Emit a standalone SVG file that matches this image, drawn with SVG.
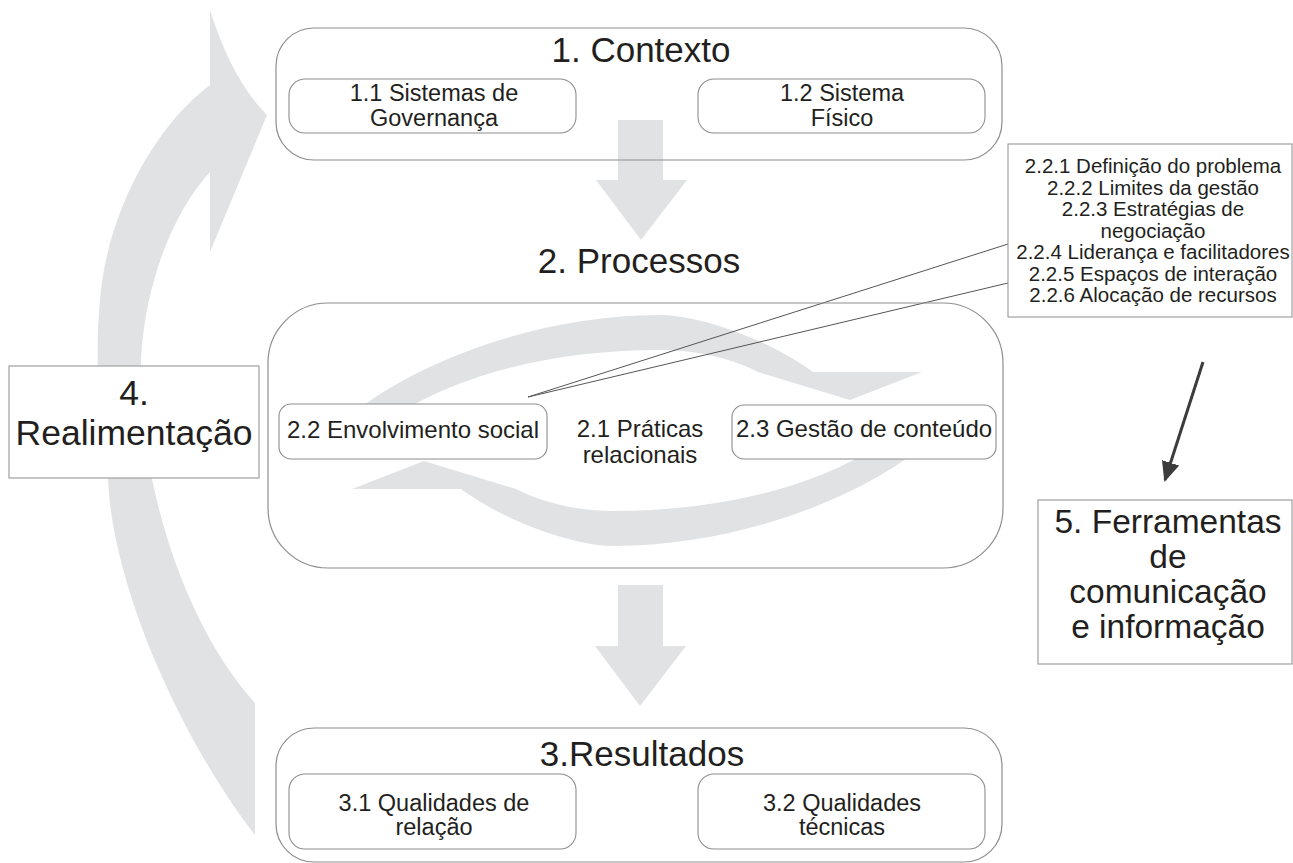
<svg xmlns="http://www.w3.org/2000/svg" width="1293" height="863" viewBox="0 0 1293 863">
<defs>
<style>
.band{fill:#e1e2e4;stroke:none}
.outer{fill:none;stroke:#8e8e8e;stroke-width:1.2}
.inner{fill:#ffffff;stroke:#8e8e8e;stroke-width:1.1}
.sq{fill:#ffffff;stroke:#a0a0a0;stroke-width:1.2}
.t{font-family:"Liberation Sans",Arial,sans-serif;fill:#231f20;text-anchor:middle}
.title{font-size:35px}
.sub{font-size:23.5px}
.mid{font-size:24px}
.small{font-size:20.5px}
.big{font-size:33.5px}
.fb{font-size:35.5px}
.call{stroke:#555555;stroke-width:1;fill:none}
</style>
<marker id="ah" markerUnits="userSpaceOnUse" markerWidth="22" markerHeight="20" refX="18" refY="9" orient="auto">
<path d="M0,0 L20,9 L0,18 Z" fill="#3c3c3c"/>
</marker>
</defs>
<rect width="1293" height="863" fill="#ffffff"/>
<g id="connectors">
<path id="feedback" class="band" d="M210,10 Q232,80 267,115 L210,252 L210,172 C175,210 145,280 141,360 C137,470 180,620 255,703 L255,835 C185,745 112,590 108,478 C98,420 95,350 100,300 C106,220 150,130 210,85 Z"/>
<polygon id="down1" class="band" points="618,120 663,120 663,180 687,180 641,240 596,180 618,180"/>
<polygon id="down2" class="band" points="618,585 663,585 663,646 686,646 640,706 595,646 618,646"/>
<path id="cycle-top" class="band" d="M398,414 C470,368 570,350 660,350 C700,350 735,360 758,372 L850,400 L922,372 L813,372 C770,340 700,315 660,315 C540,315 420,360 352,414 Z"/>
<path id="cycle-bottom" class="band" transform="rotate(180 637 430.5)" d="M398,414 C470,368 570,350 660,350 C700,350 735,360 758,372 L850,400 L922,372 L813,372 C770,340 700,315 660,315 C540,315 420,360 352,414 Z"/>
<polyline id="callout" class="call" points="1008,244 528,397 1008,283"/>
<line id="to5" x1="1203" y1="362" x2="1165" y2="480" stroke="#3c3c3c" stroke-width="3" marker-end="url(#ah)"/>
</g>
<g id="n1">
<rect class="outer" x="276" y="28" width="726" height="132" rx="38"/>
<text class="t title" x="641" y="62">1. Contexto</text>
</g>
<g id="n1-1">
<rect class="inner" x="289" y="79" width="287" height="54" rx="16"/>
<text class="t sub" x="434" y="101">1.1 Sistemas de</text>
<text class="t sub" x="434" y="126">Governança</text>
</g>
<g id="n1-2">
<rect class="inner" x="698" y="79" width="287" height="54" rx="16"/>
<text class="t sub" x="842" y="101">1.2 Sistema</text>
<text class="t sub" x="842" y="126">Físico</text>
</g>
<g id="n2">
<text class="t title" x="639" y="273">2. Processos</text>
<rect class="outer" x="268" y="303" width="735" height="265" rx="60"/>
</g>
<g id="n2-1">
<text class="t mid" x="640" y="437">2.1 Práticas</text>
<text class="t mid" x="640" y="463">relacionais</text>
</g>
<g id="n2-2">
<rect class="inner" x="279" y="404" width="268" height="55" rx="12"/>
<text class="t mid" x="413" y="438">2.2 Envolvimento social</text>
</g>
<g id="n2-3">
<rect class="inner" x="732" y="405" width="264" height="54" rx="12"/>
<text class="t mid" x="864" y="437">2.3 Gestão de conteúdo</text>
</g>
<g id="n2-2-details">
<rect class="sq" x="1008" y="144" width="284" height="173"/>
<text class="t small" x="1153" y="173">2.2.1 Definição do problema</text>
<text class="t small" x="1153" y="195">2.2.2 Limites da gestão</text>
<text class="t small" x="1153" y="216">2.2.3 Estratégias de</text>
<text class="t small" x="1153" y="238">negociação</text>
<text class="t small" x="1153" y="259">2.2.4 Liderança e facilitadores</text>
<text class="t small" x="1153" y="281">2.2.5 Espaços de interação</text>
<text class="t small" x="1153" y="302">2.2.6 Alocação de recursos</text>
</g>
<g id="n3">
<rect class="outer" x="276" y="728" width="726" height="134" rx="38"/>
<text class="t title" x="642" y="766">3.Resultados</text>
</g>
<g id="n3-1">
<rect class="inner" x="289" y="774" width="287" height="75" rx="16"/>
<text class="t sub" x="434" y="811">3.1 Qualidades de</text>
<text class="t sub" x="434" y="835">relação</text>
</g>
<g id="n3-2">
<rect class="inner" x="698" y="774" width="287" height="75" rx="16"/>
<text class="t sub" x="842" y="811">3.2 Qualidades</text>
<text class="t sub" x="842" y="835">técnicas</text>
</g>
<g id="n4">
<rect class="sq" x="9" y="366" width="250" height="112"/>
<text class="t fb" x="134" y="405">4.</text>
<text class="t fb" x="134" y="445">Realimentação</text>
</g>
<g id="n5">
<rect class="sq" x="1038" y="500" width="254" height="164"/>
<text class="t big" x="1168" y="533">5. Ferramentas</text>
<text class="t big" x="1168" y="568">de</text>
<text class="t big" x="1168" y="603">comunicação</text>
<text class="t big" x="1168" y="638">e informação</text>
</g>
</svg>
